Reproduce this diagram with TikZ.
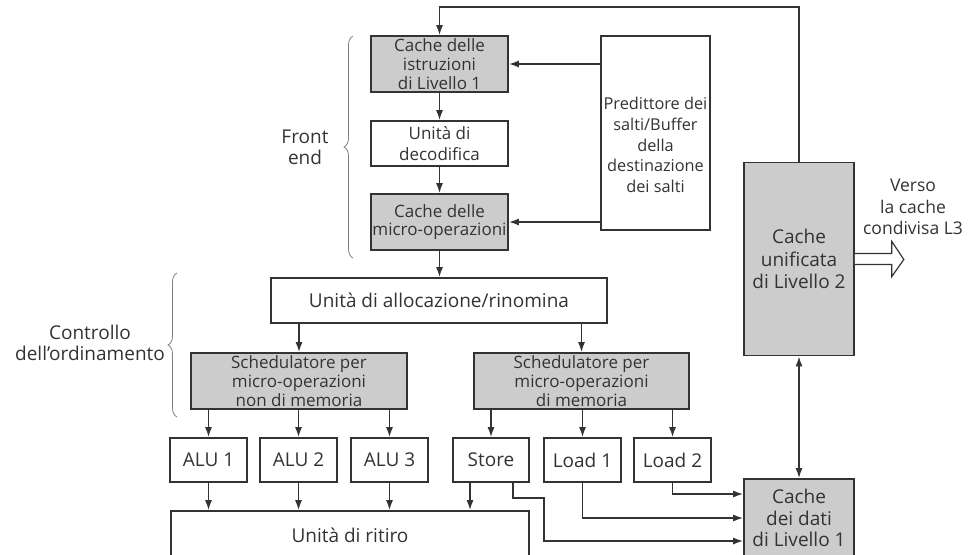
\documentclass[tikz,border=0pt]{standalone}
\usepackage{fontspec}
\setmainfont{Open Sans}
\usetikzlibrary{arrows.meta,decorations.pathreplacing}
\begin{document}
\begin{tikzpicture}[x=1pt,y=-1pt,
    font=\fontsize{17}{21}\selectfont,
    box/.style={draw=black!80,line width=1.6pt,fill=white,inner sep=0pt,align=center,text=black!80},
    gbox/.style={box,fill=black!20},
    tight/.style={font=\fontsize{17}{18.7}\selectfont},
    big/.style={font=\fontsize{19}{21}\selectfont},
    arr/.style={draw=black!80,line width=1.6pt,-{Latex[length=10pt,width=7pt]}},
    curly/.style={draw=black!50,line width=0.8pt,decorate,decoration={brace,amplitude=9pt}},
    lbl/.style={align=center,text=black!80}]
  \useasboundingbox (0,0) rectangle (973,554);
  % front end
  \node[gbox,tight,minimum width=137,minimum height=56] (icache) at (439.5,64) {Cache delle\\istruzioni\\di Livello 1};
  \node[box,minimum width=137,minimum height=45] (decode) at (439.5,143.5) {Unità di\\decodifica};
  \node[gbox,tight,minimum width=137,minimum height=56] (uopcache) at (439.5,222) {Cache delle\\micro-operazioni};
  \node[box,minimum width=109,minimum height=194] (predict) at (655.5,133) {};
  \node[lbl,font=\fontsize{16.3}{20.6}\selectfont] (predtxt) at (655.5,145) {Predittore dei\\salti/Buffer\\della\\destinazione\\dei salti};
  % controllo dell'ordinamento
  \node[box,big,minimum width=336,minimum height=45] (alloc) at (439,300.5) {Unità di allocazione/rinomina};
  \node[gbox,tight,minimum width=216,minimum height=56] (schedA) at (299,381) {Schedulatore per\\micro-operazioni\\non di memoria};
  \node[gbox,tight,minimum width=215,minimum height=56] (schedM) at (581.5,381) {Schedulatore per\\micro-operazioni\\di memoria};
  % unita di esecuzione
  \node[box,big,minimum width=77,minimum height=44] (alu1) at (208.5,460) {ALU 1};
  \node[box,big,minimum width=77,minimum height=44] (alu2) at (298.5,460) {ALU 2};
  \node[box,big,minimum width=77,minimum height=44] (alu3) at (389.5,460) {ALU 3};
  \node[box,big,minimum width=76,minimum height=44] (store) at (491,460) {Store};
  \node[box,big,minimum width=77,minimum height=44] (load1) at (582.5,460) {Load 1};
  \node[box,big,minimum width=77,minimum height=44] (load2) at (672.5,460) {Load 2};
  \node[box,big,minimum width=358,minimum height=48] (retire) at (350,535) {Unità di ritiro};
  % cache
  \node[gbox,font=\fontsize{19}{22.5}\selectfont,minimum width=110,minimum height=193] (L2) at (799,259) {Cache\\unificata\\di Livello 2};
  \node[gbox,font=\fontsize{19}{21.5}\selectfont,minimum width=110,minimum height=78] (L1d) at (799,518) {Cache\\dei dati\\di Livello 1};
  \node[lbl,font=\fontsize{17.5}{21.5}\selectfont] (L3) at (913,207) {Verso\\la cache\\condivisa L3};
  \node[lbl,big] (fe) at (305,147) {Front\\end};
  \node[lbl,big] (oo) at (90,343) {Controllo\\dell’ordinamento};
  \draw[curly] (353,258) -- (353,36);
  \draw[curly] (177,417) -- (177,273);

  \coordinate (fb) at (439.5,7);
  \draw[arr] (L2.north) |- (fb) -- (icache.north);
  \draw[arr] (icache) -- (decode);
  \draw[arr] (decode) -- (uopcache);
  \draw[arr] (uopcache.south) -- (uopcache.south |- alloc.north);
  \draw[arr] (predict.west |- icache) -- (icache.east);
  \draw[arr] (predict.west |- uopcache) -- (uopcache.east);
  \draw[arr] (alloc.south -| schedA) -- (schedA.north);
  \draw[arr] (alloc.south -| schedM) -- (schedM.north);
  \foreach \u in {alu1,alu2,alu3} {
    \draw[arr] (schedA.south -| \u) -- (\u.north);
    \draw[arr] (\u.south) -- (\u.south |- retire.north);
  }
  \foreach \u in {store,load1,load2}
    \draw[arr] (schedM.south -| \u) -- (\u.north);
  \coordinate (st1) at ([xshift=-21pt]store.south);
  \coordinate (st2) at ([xshift=22pt]store.south);
  \draw[arr] (st1) -- (st1 |- retire.north);
  \draw[arr] (st2) -- ++(0,15) -- ++(31,0) |- ([yshift=-23pt]L1d.west);
  \draw[arr] (load1.south) |- (L1d.west);
  \draw[arr] (load2.south) |- ([yshift=24pt]L1d.west);
  \draw[arr,{Latex[length=10pt,width=7pt]}-{Latex[length=10pt,width=7pt]}] (L2) -- (L1d);
  % verso L3
  \draw[draw=black!80,line width=1.2pt,fill=white] ([yshift=5.5pt]L2.east) -- ++(37,0) -- ++(0,-12)
    -- ++(12,18) -- ++(-12,17) -- ++(0,-12) -- ++(-37,0);
\end{tikzpicture}
\end{document}
